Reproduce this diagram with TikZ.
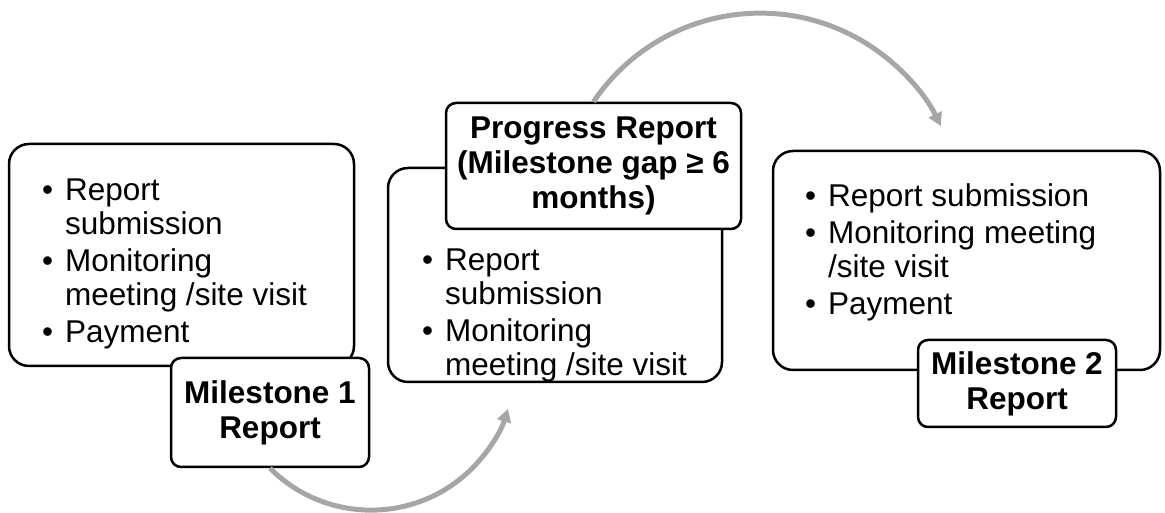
\documentclass[tikz,border=0pt]{standalone}
\usepackage{fontspec}
\setmainfont{Liberation Sans}
\usetikzlibrary{arrows.meta}
\definecolor{flowgray}{RGB}{166,166,166}

\begin{document}
\begin{tikzpicture}[x=1pt,y=1pt,
    font=\fontsize{31.5}{34}\selectfont,
    panel/.style={draw,line width=2.5pt,rounded corners=20pt,fill=white},
    tag/.style={draw,line width=2.5pt,rounded corners=10pt,fill=white,align=center,
        font=\fontsize{31.5}{35}\selectfont\bfseries},
    list/.style={inner sep=0pt,anchor=base west},
    flow/.style={line width=5pt,draw=flowgray,-{Triangle[length=13pt,width=14pt]}}]
    \useasboundingbox (0,0) rectangle (1165,513);
    % panels
    \node[panel,minimum width=345pt,minimum height=222pt] (box1) at (181.5,258) {};
    \node[panel,minimum width=334pt,minimum height=214pt] (box2) at (555,238) {};
    \node[panel,minimum width=387pt,minimum height=219pt] (box3) at (966.5,252.5) {};
    % bullet lists
    \node[list] (list1) at (42,312) {\begin{tabular}[t]{@{}l@{\hspace{12pt}}l@{}}
        \textbullet & Report\\ & submission\\[3pt]
        \textbullet & Monitoring\\ & meeting /site visit\\[3pt]
        \textbullet & Payment
    \end{tabular}};
    \node[list] (list2) at (422,242) {\begin{tabular}[t]{@{}l@{\hspace{12pt}}l@{}}
        \textbullet & Report\\ & submission\\[3pt]
        \textbullet & Monitoring\\ & meeting /site visit
    \end{tabular}};
    \node[list] (list3) at (805,306) {\begin{tabular}[t]{@{}l@{\hspace{12pt}}l@{}}
        \textbullet & Report submission\\[3pt]
        \textbullet & Monitoring meeting\\ & /site visit\\[3pt]
        \textbullet & Payment
    \end{tabular}};
    % report tags
    \node[tag,minimum width=198pt,minimum height=109pt] (m1) at (270,100.5) {Milestone 1\\Report};
    \node[tag,minimum width=295pt,minimum height=126pt] (pr) at (593.5,347) {Progress Report\\(Milestone gap ≥ 6\\months)};
    \node[tag,minimum width=198pt,minimum height=87pt] (m2) at (1017,129.5) {Milestone 2\\Report};
    % arrows
    \draw[flow] (m1.south) arc[start angle=-135,end angle=-17,radius=143];
    \draw[flow] (pr.north) arc[start angle=146,end angle=26,radius=201];
\end{tikzpicture}
\end{document}
